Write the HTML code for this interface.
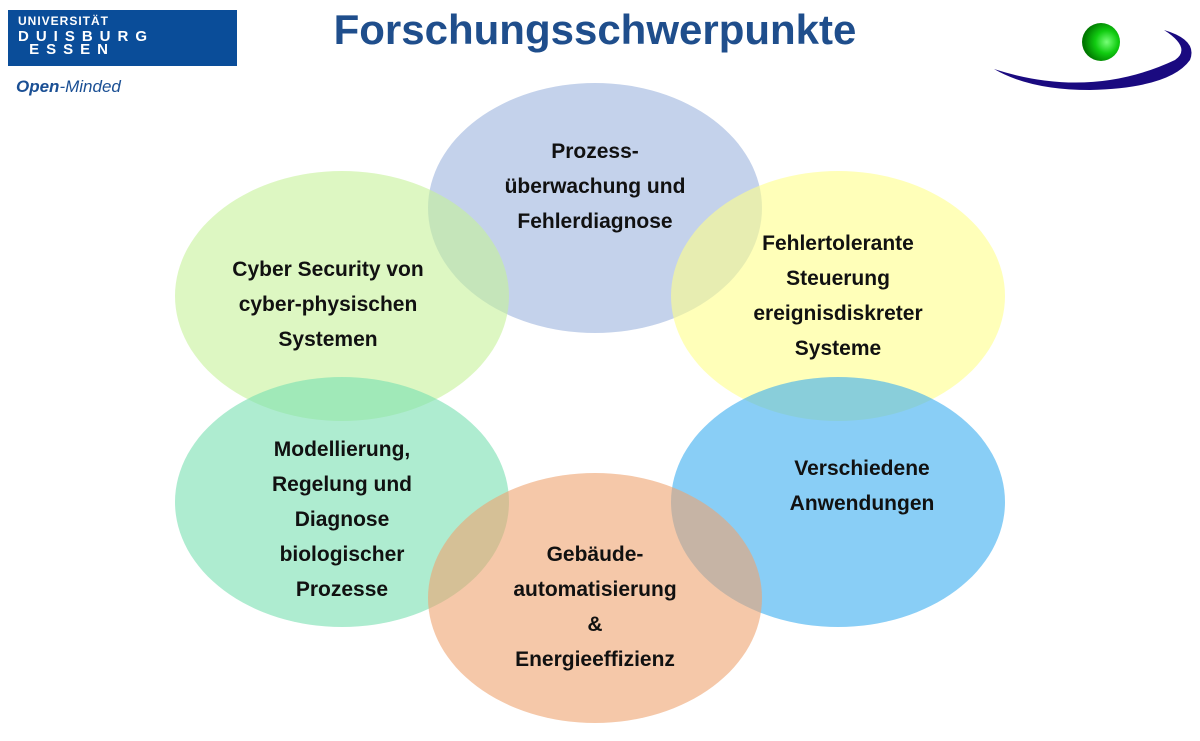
<!DOCTYPE html>
<html><head><meta charset="utf-8"><style>
body{margin:0;width:1200px;height:741px;background:#fff;position:relative;overflow:hidden;font-family:"Liberation Sans",sans-serif}
.e{position:absolute;width:334px;height:250px;border-radius:50%;opacity:.6}
.t{position:absolute;width:260px;text-align:center;font-weight:bold;font-size:21px;line-height:35px;color:#111}
</style></head><body>
<div style="position:absolute;left:8px;top:10px;width:229px;height:56px;background:#0a4d99"></div>
<div style="position:absolute;left:18px;top:14px;color:#fff;font-weight:bold;font-size:12px;letter-spacing:1px">UNIVERSITÄT</div>
<div style="position:absolute;left:18px;top:30px;color:#fff;font-weight:bold;font-size:15px;letter-spacing:7px;line-height:13px">DUISBURG<br>&nbsp;ESSEN</div>
<div style="position:absolute;left:16px;top:77px;color:#1a4f94;font-style:italic;font-size:17px"><b>Open</b>-Minded</div>
<div style="position:absolute;left:300px;top:6px;width:590px;text-align:center;color:#1f4e8c;font-weight:bold;font-size:42px">Forschungsschwerpunkte</div>
<svg style="position:absolute;left:980px;top:0" width="220" height="100">
<path d="M14 69 Q110 100 195 60 Q212 48 184 30 Q218 40 210 60 Q190 88 110 90 Q50 90 14 69Z" fill="#1a0a80"/>
<defs><radialGradient id="g" cx="0.65" cy="0.5" r="0.6"><stop offset="0" stop-color="#7f7"/><stop offset="0.5" stop-color="#1c1"/><stop offset="1" stop-color="#070"/></radialGradient></defs>
<circle cx="121" cy="42" r="19" fill="url(#g)"/>
</svg>
<div class="e" style="left:428px;top:83px;background:#9db4de"></div>
<div class="e" style="left:175px;top:171px;background:#c6f29a"></div>
<div class="e" style="left:671px;top:171px;background:#ffff8a"></div>
<div class="e" style="left:175px;top:377px;background:#78e0b0"></div>
<div class="e" style="left:671px;top:377px;background:#3aaef0"></div>
<div class="e" style="left:428px;top:473px;background:#eea470"></div>
<div class="t" style="left:465px;top:134px">Prozess-<br>überwachung und<br>Fehlerdiagnose</div>
<div class="t" style="left:198px;top:252px">Cyber Security von<br>cyber-physischen<br>Systemen</div>
<div class="t" style="left:708px;top:226px">Fehlertolerante<br>Steuerung<br>ereignisdiskreter<br>Systeme</div>
<div class="t" style="left:212px;top:432px">Modellierung,<br>Regelung und<br>Diagnose<br>biologischer<br>Prozesse</div>
<div class="t" style="left:732px;top:451px">Verschiedene<br>Anwendungen</div>
<div class="t" style="left:465px;top:537px">Gebäude-<br>automatisierung<br>&amp;<br>Energieeffizienz</div>
</body></html>
